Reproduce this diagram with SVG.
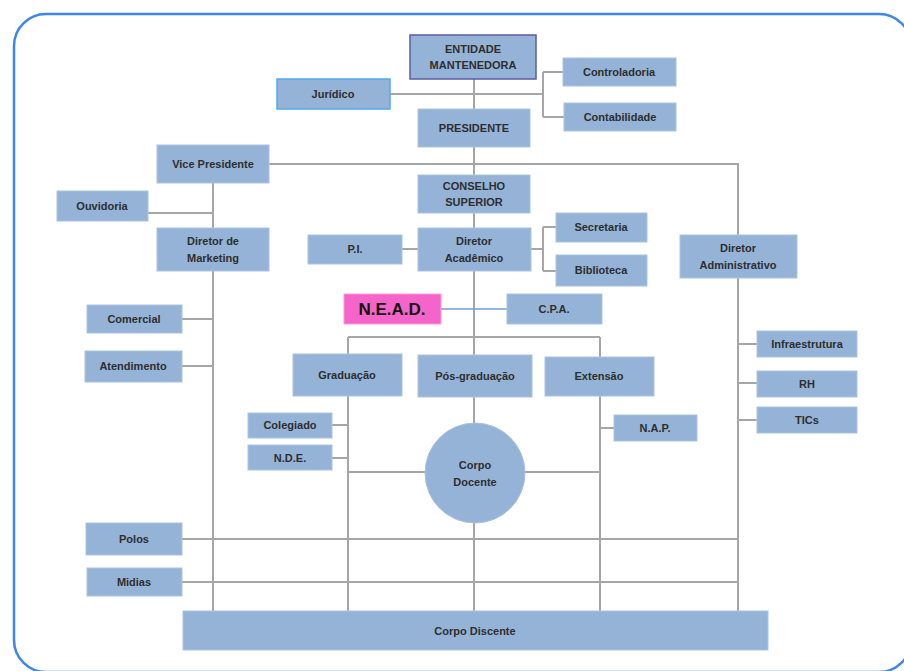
<svg xmlns="http://www.w3.org/2000/svg" width="904" height="671" viewBox="0 0 904 671">
<style>
.b{fill:#95b3d7;stroke:#a9c3e3;stroke-width:1}
.t{font-family:"Liberation Sans",Arial,sans-serif;font-weight:bold;font-size:11px;fill:#2e2e2e;text-anchor:middle}
.c{stroke:#a6a6a6;stroke-width:2;fill:none}
</style>
<rect x="14" y="14" width="897" height="658" rx="32" fill="#fff" stroke="#3d85f0" stroke-width="2.5"/>
<g id="connectors">
<path class="c" d="M474 79V611"/>
<path class="c" d="M390 94H543M543 72V117M543 72H563M543 117H564"/>
<path class="c" d="M269 164H738V611"/>
<path class="c" d="M213 183V611M148 213H213M182 319H213M182 366H213"/>
<path class="c" d="M402 249H418"/>
<path class="c" d="M531 249H543M543 227V271M543 227H556M543 271H556"/>
<path class="c" d="M348 337H600M348 337V611M600 337V611"/>
<path class="c" d="M332 425H348M332 458H348M348 472H600M600 428H614"/>
<path class="c" d="M738 344H757M738 383H757M738 420H757"/>
<path class="c" d="M182 539H738M182 582H738"/>
<path d="M441 309H507" stroke="#6f9fd6" stroke-width="1.5" fill="none"/>
</g>
<g id="entidade"><rect x="410" y="35" width="126" height="44" fill="#95b3d7" stroke="#5b5ca3" stroke-width="1.5"/><text class="t" x="473" y="53">ENTIDADE</text><text class="t" x="473" y="69">MANTENEDORA</text></g>
<g id="juridico"><rect x="277" y="79" width="113" height="30" fill="#95b3d7" stroke="#52a7f5" stroke-width="1.5"/><text class="t" x="333" y="98">Jurídico</text></g>
<g id="controladoria"><rect class="b" x="563" y="58" width="113" height="28"/><text class="t" x="619" y="76">Controladoria</text></g>
<g id="contabilidade"><rect class="b" x="564" y="103" width="112" height="28"/><text class="t" x="620" y="121">Contabilidade</text></g>
<g id="presidente"><rect class="b" x="418" y="109" width="112" height="38"/><text class="t" x="474" y="132">PRESIDENTE</text></g>
<g id="vice"><rect class="b" x="157" y="145" width="112" height="38"/><text class="t" x="213" y="168">Vice Presidente</text></g>
<g id="conselho"><rect class="b" x="418" y="175" width="112" height="38"/><text class="t" x="474" y="190">CONSELHO</text><text class="t" x="474" y="206">SUPERIOR</text></g>
<g id="ouvidoria"><rect class="b" x="57" y="191" width="91" height="30"/><text class="t" x="102" y="210">Ouvidoria</text></g>
<g id="marketing"><rect class="b" x="157" y="228" width="112" height="43"/><text class="t" x="213" y="245">Diretor de</text><text class="t" x="213" y="262">Marketing</text></g>
<g id="pi"><rect class="b" x="308" y="235" width="94" height="29"/><text class="t" x="355" y="253">P.I.</text></g>
<g id="academico"><rect class="b" x="418" y="228" width="113" height="43"/><text class="t" x="474" y="245">Diretor</text><text class="t" x="474" y="262">Acadêmico</text></g>
<g id="secretaria"><rect class="b" x="556" y="213" width="91" height="29"/><text class="t" x="601" y="231">Secretaria</text></g>
<g id="biblioteca"><rect class="b" x="556" y="255" width="91" height="31"/><text class="t" x="601" y="274">Biblioteca</text></g>
<g id="administrativo"><rect class="b" x="680" y="235" width="117" height="43"/><text class="t" x="738" y="252">Diretor</text><text class="t" x="738" y="269">Administrativo</text></g>
<g id="nead"><rect x="344" y="294" width="97" height="30" fill="#f564c9" stroke="#f99be0" stroke-width="1"/><text x="392" y="315" font-family="Liberation Sans,Arial,sans-serif" font-weight="bold" font-size="17" fill="#111" text-anchor="middle">N.E.A.D.</text></g>
<g id="cpa"><rect class="b" x="507" y="294" width="95" height="30"/><text class="t" x="554" y="313">C.P.A.</text></g>
<g id="comercial"><rect class="b" x="87" y="305" width="95" height="28"/><text class="t" x="134" y="323">Comercial</text></g>
<g id="atendimento"><rect class="b" x="85" y="351" width="97" height="31"/><text class="t" x="133" y="370">Atendimento</text></g>
<g id="infraestrutura"><rect class="b" x="757" y="331" width="100" height="26"/><text class="t" x="807" y="348">Infraestrutura</text></g>
<g id="graduacao"><rect class="b" x="293" y="354" width="109" height="42"/><text class="t" x="347" y="379">Graduação</text></g>
<g id="posgraduacao"><rect class="b" x="418" y="355" width="114" height="42"/><text class="t" x="475" y="380">Pós-graduação</text></g>
<g id="extensao"><rect class="b" x="545" y="357" width="109" height="39"/><text class="t" x="599" y="380">Extensão</text></g>
<g id="rh"><rect class="b" x="757" y="371" width="100" height="26"/><text class="t" x="807" y="388">RH</text></g>
<g id="colegiado"><rect class="b" x="248" y="413" width="84" height="25"/><text class="t" x="290" y="429">Colegiado</text></g>
<g id="tics"><rect class="b" x="757" y="407" width="100" height="26"/><text class="t" x="807" y="424">TICs</text></g>
<g id="nap"><rect class="b" x="614" y="415" width="83" height="26"/><text class="t" x="655" y="432">N.A.P.</text></g>
<g id="nde"><rect class="b" x="248" y="445" width="84" height="25"/><text class="t" x="290" y="462">N.D.E.</text></g>
<g id="docente"><circle cx="475" cy="473" r="50" fill="#95b3d7" stroke="#a9c3e3" stroke-width="1"/><text class="t" x="475" y="469">Corpo</text><text class="t" x="475" y="486">Docente</text></g>
<g id="polos"><rect class="b" x="86" y="523" width="96" height="32"/><text class="t" x="134" y="543">Polos</text></g>
<g id="midias"><rect class="b" x="87" y="568" width="95" height="28"/><text class="t" x="134" y="586">Midias</text></g>
<g id="discente"><rect class="b" x="183" y="611" width="585" height="39"/><text class="t" x="475" y="635">Corpo Discente</text></g>
</svg>
